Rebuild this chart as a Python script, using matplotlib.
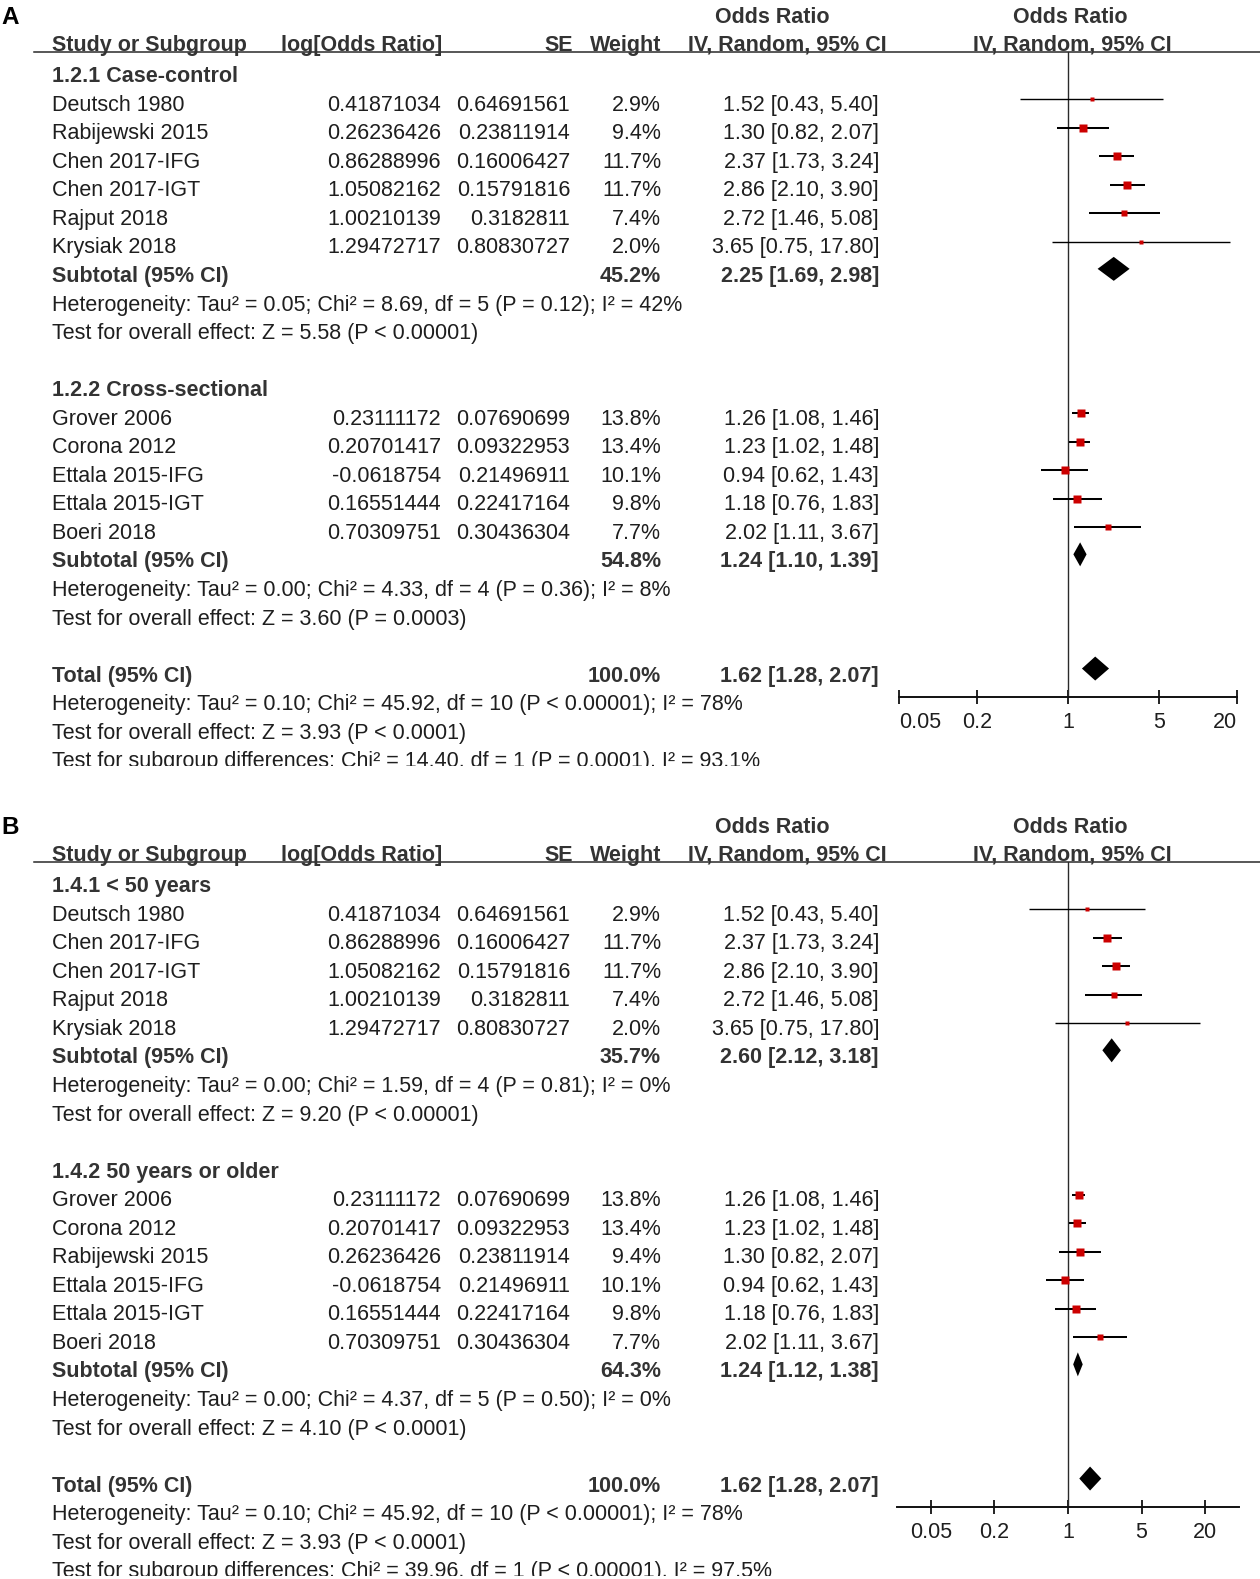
import numpy as np
import matplotlib.pyplot as plt
from matplotlib.patches import Polygon

plt.rcParams['font.family'] = ['Liberation Sans', 'DejaVu Sans']

# ---- Panel A: study design ----
a_groups = ["1.2.1 Case-control", "1.2.2 Cross-sectional"]

a1_study = ["Deutsch 1980", "Rabijewski 2015", "Chen 2017-IFG", "Chen 2017-IGT", "Rajput 2018", "Krysiak 2018"]
a1_logor = [0.41871034, 0.26236426, 0.86288996, 1.05082162, 1.00210139, 1.29472717]
a1_se = [0.64691561, 0.23811914, 0.16006427, 0.15791816, 0.3182811, 0.80830727]
a1_weight = [2.9, 9.4, 11.7, 11.7, 7.4, 2.0]
a1_or = [1.52, 1.30, 2.37, 2.86, 2.72, 3.65]
a1_lo = [0.43, 0.82, 1.73, 2.10, 1.46, 0.75]
a1_hi = [5.40, 2.07, 3.24, 3.90, 5.08, 17.80]

a2_study = ["Grover 2006", "Corona 2012", "Ettala 2015-IFG", "Ettala 2015-IGT", "Boeri 2018"]
a2_logor = [0.23111172, 0.20701417, -0.0618754, 0.16551444, 0.70309751]
a2_se = [0.07690699, 0.09322953, 0.21496911, 0.22417164, 0.30436304]
a2_weight = [13.8, 13.4, 10.1, 9.8, 7.7]
a2_or = [1.26, 1.23, 0.94, 1.18, 2.02]
a2_lo = [1.08, 1.02, 0.62, 0.76, 1.11]
a2_hi = [1.46, 1.48, 1.43, 1.83, 3.67]

a_sub_weight = [45.2, 54.8]
a_sub_or = [2.25, 1.24]
a_sub_lo = [1.69, 1.10]
a_sub_hi = [2.98, 1.39]
a_sub_het = ["Heterogeneity: Tau² = 0.05; Chi² = 8.69, df = 5 (P = 0.12); I² = 42%",
             "Heterogeneity: Tau² = 0.00; Chi² = 4.33, df = 4 (P = 0.36); I² = 8%"]
a_sub_test = ["Test for overall effect: Z = 5.58 (P < 0.00001)",
              "Test for overall effect: Z = 3.60 (P = 0.0003)"]
a_subgroup_diff = "Test for subgroup differences: Chi² = 14.40, df = 1 (P = 0.0001), I² = 93.1%"

# ---- Panel B: age ----
b_groups = ["1.4.1 < 50 years", "1.4.2 50 years or older"]

b1_study = ["Deutsch 1980", "Chen 2017-IFG", "Chen 2017-IGT", "Rajput 2018", "Krysiak 2018"]
b1_logor = [0.41871034, 0.86288996, 1.05082162, 1.00210139, 1.29472717]
b1_se = [0.64691561, 0.16006427, 0.15791816, 0.3182811, 0.80830727]
b1_weight = [2.9, 11.7, 11.7, 7.4, 2.0]
b1_or = [1.52, 2.37, 2.86, 2.72, 3.65]
b1_lo = [0.43, 1.73, 2.10, 1.46, 0.75]
b1_hi = [5.40, 3.24, 3.90, 5.08, 17.80]

b2_study = ["Grover 2006", "Corona 2012", "Rabijewski 2015", "Ettala 2015-IFG", "Ettala 2015-IGT", "Boeri 2018"]
b2_logor = [0.23111172, 0.20701417, 0.26236426, -0.0618754, 0.16551444, 0.70309751]
b2_se = [0.07690699, 0.09322953, 0.23811914, 0.21496911, 0.22417164, 0.30436304]
b2_weight = [13.8, 13.4, 9.4, 10.1, 9.8, 7.7]
b2_or = [1.26, 1.23, 1.30, 0.94, 1.18, 2.02]
b2_lo = [1.08, 1.02, 0.82, 0.62, 0.76, 1.11]
b2_hi = [1.46, 1.48, 2.07, 1.43, 1.83, 3.67]

b_sub_weight = [35.7, 64.3]
b_sub_or = [2.60, 1.24]
b_sub_lo = [2.12, 1.12]
b_sub_hi = [3.18, 1.38]
b_sub_het = ["Heterogeneity: Tau² = 0.00; Chi² = 1.59, df = 4 (P = 0.81); I² = 0%",
             "Heterogeneity: Tau² = 0.00; Chi² = 4.37, df = 5 (P = 0.50); I² = 0%"]
b_sub_test = ["Test for overall effect: Z = 9.20 (P < 0.00001)",
              "Test for overall effect: Z = 4.10 (P < 0.0001)"]
b_subgroup_diff = "Test for subgroup differences: Chi² = 39.96, df = 1 (P < 0.00001), I² = 97.5%"

# ---- overall (same in both panels) ----
total_weight = 100.0
total_or, total_lo, total_hi = 1.62, 1.28, 2.07
total_het = "Heterogeneity: Tau² = 0.10; Chi² = 45.92, df = 10 (P < 0.00001); I² = 78%"
total_test = "Test for overall effect: Z = 3.93 (P < 0.0001)"

tick_vals = [0.05, 0.2, 1, 5, 20]
tick_labels = ["0.05", "0.2", "1", "5", "20"]

W, H = 1260, 1579
ROW0, PITCH = 74.5, 28.55
FS = 15.5
TXT = '#1e1e1e'
BOLD = '#333333'
RED = '#cc0000'

fig = plt.figure(figsize=(W / 100, H / 100), dpi=100)


def rect(x0, y0, x1, y1):
    return [x0 / W, 1 - y1 / H, (x1 - x0) / W, (y1 - y0) / H]


def draw_panel(letter, off, groups, studies, subs, sub_het, sub_test, diff_text,
               ax_px, xlim, end_labels_inside):
    def row(px):
        return (px - off - ROW0) / PITCH

    tab = fig.add_axes(rect(0, off, W, off + 766))
    tab.set_xlim(0, W)
    tab.set_ylim(row(off + 766), row(off))
    tab.axis('off')

    fa = fig.add_axes(rect(ax_px[0], off + 51.7, ax_px[1], off + 697.3))
    fa.set_facecolor('none')
    fa.set_xscale('log')
    fa.set_xlim(*xlim)
    fa.set_ylim(row(off + 697.3), row(off + 51.7))

    bl = 7.6 / PITCH  # baseline below row centre

    def put(x, k, s, ha='left', bold=False, size=FS, color=None):
        tab.text(x, k + bl, s, ha=ha, va='baseline', fontsize=size,
                 fontweight='bold' if bold else 'normal',
                 color=color or (BOLD if bold else TXT), clip_on=True)

    # headers
    tab.text(1, row(off + 15.5) + 8.5 / PITCH, letter, fontsize=17.5, fontweight='bold',
             color='black', va='baseline')
    hk = row(off + 43.3)
    put(51.7, hk, "Study or Subgroup", bold=True)
    put(442, hk, "log[Odds Ratio]", ha='right', bold=True)
    put(573, hk, "SE", ha='right', bold=True)
    put(661, hk, "Weight", ha='right', bold=True)
    put(787, hk, "IV, Random, 95% CI", ha='center', bold=True)
    put(1072, hk, "IV, Random, 95% CI", ha='center', bold=True)
    ok = row(off + 15)
    put(772, ok, "Odds Ratio", ha='center', bold=True)
    put(1070, ok, "Odds Ratio", ha='center', bold=True)
    lk = row(off + 51.7)
    tab.plot([34, W], [lk, lk], color='#2a2a2a', lw=1.1)

    fa.axvline(1, color='#2a2a2a', lw=1.0)

    k = 0
    for gi, grp in enumerate(groups):
        put(51.7, k, grp, bold=True)
        k += 1
        name, logor, se, wt, orv, lo, hi = studies[gi]
        for i in range(len(name)):
            put(51.7, k, name[i])
            put(441, k, str(logor[i]), ha='right')
            put(570, k, str(se[i]), ha='right')
            put(661, k, f"{wt[i]:.1f}%", ha='right')
            put(879, k, f"{orv[i]:.2f} [{lo[i]:.2f}, {hi[i]:.2f}]", ha='right')
            ym = k - 4 / PITCH
            fa.plot([lo[i], hi[i]], [ym, ym], color='black', lw=1.0 if wt[i] < 5 else 1.45,
                    solid_capstyle='butt')
            side = 2.0 + 1.75 * np.sqrt(wt[i])
            fa.plot(orv[i], ym, 's', ms=side * 0.72, color=RED, mec='none')
            k += 1
        sw, so, slo, shi = subs[gi]
        put(51.7, k, "Subtotal (95% CI)", bold=True)
        put(661, k, f"{sw:.1f}%", ha='right', bold=True)
        put(879, k, f"{so:.2f} [{slo:.2f}, {shi:.2f}]", ha='right', bold=True)
        yd = k - 5.5 / PITCH
        h = 12 / PITCH
        fa.add_patch(Polygon([(slo, yd), (so, yd - h), (shi, yd), (so, yd + h)],
                             closed=True, color='black', lw=0))
        k += 1
        put(51.7, k, sub_het[gi])
        k += 1
        put(51.7, k, sub_test[gi])
        k += 2

    put(51.7, k, "Total (95% CI)", bold=True)
    put(661, k, f"{total_weight:.1f}%", ha='right', bold=True)
    put(879, k, f"{total_or:.2f} [{total_lo:.2f}, {total_hi:.2f}]", ha='right', bold=True)
    yd = k - 5.5 / PITCH
    h = 12 / PITCH
    fa.add_patch(Polygon([(total_lo, yd), (total_or, yd - h), (total_hi, yd), (total_or, yd + h)],
                         closed=True, color='black', lw=0))
    put(51.7, k + 1, total_het)
    put(51.7, k + 2, total_test)
    put(51.7, k + 3, diff_text)

    for s in ['top', 'left', 'right']:
        fa.spines[s].set_visible(False)
    fa.spines['bottom'].set_linewidth(1.4)
    fa.spines['bottom'].set_color('#111111')
    fa.set_yticks([])
    fa.set_xticks(tick_vals)
    fa.set_xticklabels(tick_labels)
    fa.xaxis.set_minor_locator(plt.NullLocator())
    fa.tick_params(axis='x', direction='inout', length=9.5, width=1.3, color='#111111',
                   labelsize=FS, labelcolor=TXT, pad=5.5)
    if end_labels_inside:
        lbls = fa.get_xticklabels()
        lbls[0].set_ha('left')
        lbls[-1].set_ha('right')


draw_panel("A", 0, a_groups,
           [(a1_study, a1_logor, a1_se, a1_weight, a1_or, a1_lo, a1_hi),
            (a2_study, a2_logor, a2_se, a2_weight, a2_or, a2_lo, a2_hi)],
           list(zip(a_sub_weight, a_sub_or, a_sub_lo, a_sub_hi)),
           a_sub_het, a_sub_test, a_subgroup_diff,
           (899, 1237), (0.05, 20), True)

draw_panel("B", 810, b_groups,
           [(b1_study, b1_logor, b1_se, b1_weight, b1_or, b1_lo, b1_hi),
            (b2_study, b2_logor, b2_se, b2_weight, b2_or, b2_lo, b2_hi)],
           list(zip(b_sub_weight, b_sub_or, b_sub_lo, b_sub_hi)),
           b_sub_het, b_sub_test, b_subgroup_diff,
           (897, 1239), (10 ** -1.624, 10 ** 1.624), False)

fig.savefig("out.png", dpi=100, facecolor='white')
